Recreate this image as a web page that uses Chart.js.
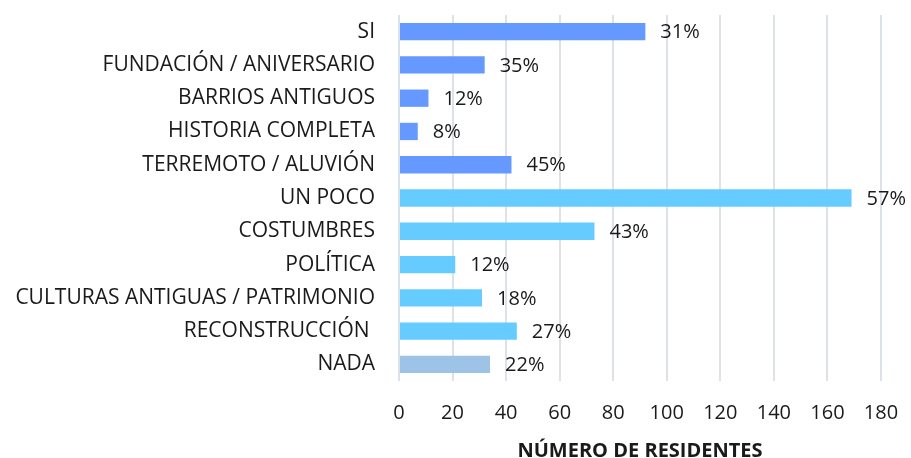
<!DOCTYPE html>
<html>
<head>
<meta charset="utf-8">
<script src="https://cdn.jsdelivr.net/npm/chart.js@4.4.0/dist/chart.umd.min.js"></script>
<style>
  html, body { margin: 0; padding: 0; background: #fff; }
  #wrap { width: 911px; height: 458px; }
</style>
</head>
<body>
<div id="wrap"><canvas id="residentesChart"></canvas></div>
<script>
// Temas mencionados por los residentes
const categorias = [
    'SI',
    'FUNDACIÓN / ANIVERSARIO',
    'BARRIOS ANTIGUOS',
    'HISTORIA COMPLETA',
    'TERREMOTO / ALUVIÓN',
    'UN POCO',
    'COSTUMBRES',
    'POLÍTICA',
    'CULTURAS ANTIGUAS / PATRIMONIO',
    'RECONSTRUCCIÓN ',
    'NADA'
];
const residentes = [92, 32, 11, 7, 42, 169, 73, 21, 31, 44, 34];
const porcentajes = ['31%', '35%', '12%', '8%', '45%', '57%', '43%', '12%', '18%', '27%', '22%'];
const grupo = ['si', 'si', 'si', 'si', 'si', 'poco', 'poco', 'poco', 'poco', 'poco', 'nada'];
const ticksX = [0, 20, 40, 60, 80, 100, 120, 140, 160, 180];

const coloresGrupo = { si: '#6699FF', poco: '#66CCFF', nada: '#9DC3E6' };
const FUENTE = "'Open Sans', sans-serif";

// Etiquetas de porcentaje al final de cada barra
const etiquetasPlugin = {
    id: 'etiquetas',
    afterDatasetsDraw(chart) {
        const ctx = chart.ctx;
        const meta = chart.getDatasetMeta(0);
        ctx.save();
        ctx.font = '20px ' + FUENTE;
        ctx.fillStyle = '#1a1a1a';
        ctx.textAlign = 'left';
        ctx.textBaseline = 'middle';
        meta.data.forEach((bar, i) => {
            ctx.fillText(porcentajes[i], bar.x + 15, bar.y + 1);
        });
        ctx.restore();
    }
};

const ctx = document.getElementById('residentesChart').getContext('2d');
const chart = new Chart(ctx, {
    type: 'bar',
    data: {
        labels: categorias,
        datasets: [{
            data: residentes,
            backgroundColor: grupo.map(g => coloresGrupo[g]),
            barPercentage: 0.52,
            categoryPercentage: 1.0
        }]
    },
    options: {
        indexAxis: 'y',
        responsive: true,
        maintainAspectRatio: false,
        animation: false,
        layout: { padding: { top: 15, right: 30, left: 0, bottom: 0 } },
        plugins: {
            legend: { display: false },
            tooltip: { enabled: false }
        },
        scales: {
            x: {
                min: 0,
                max: 180,
                afterBuildTicks(scale) {
                    scale.ticks = ticksX.map(v => ({ value: v }));
                },
                afterFit(scale) {
                    scale.height = 77;
                    // sin relleno extra a los lados; lo controla layout.padding
                    scale.paddingLeft = 0;
                    scale.paddingRight = 0;
                },
                grid: { color: '#dde1e8', lineWidth: 2, drawTicks: false },
                border: { display: false },
                ticks: {
                    padding: 20,
                    color: '#1a1a1a',
                    font: { family: FUENTE, size: 20 }
                },
                title: {
                    display: true,
                    text: 'NÚMERO DE RESIDENTES',
                    color: '#1a1a1a',
                    font: { family: FUENTE, size: 20, weight: 'bold' },
                    padding: { top: 10, bottom: -5 }
                }
            },
            y: {
                afterFit(scale) {
                    scale.width = 399;
                    scale.paddingTop = 0;
                    scale.paddingBottom = 0;
                },
                grid: { display: false, drawTicks: false },
                border: { display: false },
                ticks: {
                    padding: 24,
                    color: '#1a1a1a',
                    font: { family: FUENTE, size: 21 }
                }
            }
        }
    },
    plugins: [etiquetasPlugin]
});
</script>
</body>
</html>
